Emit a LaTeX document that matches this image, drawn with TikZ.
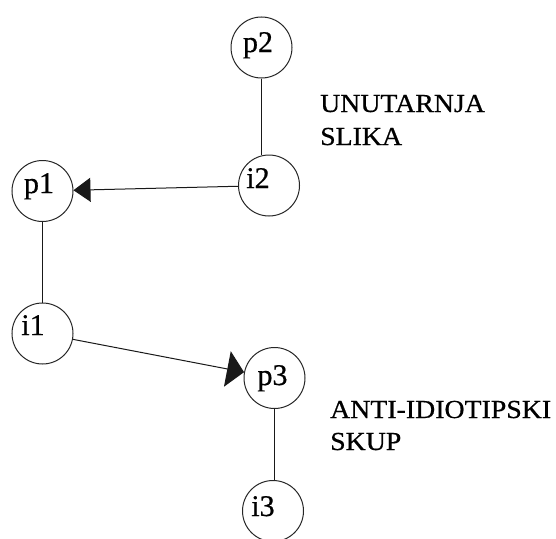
\documentclass[tikz,border=0pt]{standalone}
\usepackage{fontspec}
\setmainfont{Liberation Serif}
\newfontfamily\heavyserif[FakeBold=0.6]{Liberation Serif}
\usetikzlibrary{arrows.meta}
\begin{document}
\begin{tikzpicture}[x=1pt,y=-1pt,
  ball/.style={circle,draw=black!85,line width=1pt,minimum size=61pt,inner sep=0pt},
  nlab/.style={anchor=base,inner sep=0pt,font=\heavyserif\fontsize{30}{30}\selectfont},
  link/.style={draw=black!90,line width=1pt},
  headA/.style={-{Triangle[length=17pt,width=24pt]}},
  headB/.style={-{Triangle[length=17pt,width=36pt]}},
  side/.style={anchor=base west,inner sep=0pt,font=\heavyserif\fontsize{26}{26}\selectfont}]
\useasboundingbox[fill=white] (0,0) rectangle (556,538);
% circles
\node[ball] (p2) at (261.5,47.5) {};
\node[ball] (i2) at (269,185.5) {};
\node[ball] (p1) at (42.5,191) {};
\node[ball] (i1) at (42.5,333.5) {};
\node[ball] (p3) at (274.5,378) {};
\node[ball] (i3) at (273,511) {};
% labels inside circles
\node[nlab] (p2t) at (258,52) {p2};
\node[nlab] (i2t) at (258,188) {i2};
\node[nlab] (p1t) at (39,193) {p1};
\node[nlab] (i1t) at (33,335) {i1};
\node[nlab] (p3t) at (272.5,385) {p3};
\node[nlab] (i3t) at (263,516) {i3};
% connectors
\draw[link] (p2.south) -- (p2.south |- i2.north);
\draw[link,headA] (i2) -- (p1);
\draw[link] (p1.south) -- (i1.north);
\draw[link,headB] (i1) -- (p3);
\draw[link] (p3.south) -- (p3.south |- i3.north);
% side texts
\node[side] (u1) at (320,112) {\scalebox{1.07}[1]{UNUTARNJA}};
\node[side] (u2) at (320,145) {\scalebox{1.07}[1]{SLIKA}};
\node[side] (a1) at (330,418) {\scalebox{1.07}[1]{ANTI-IDIOTIPSKI}};
\node[side] (a2) at (330,450) {\scalebox{1.07}[1]{SKUP}};
\end{tikzpicture}
\end{document}
